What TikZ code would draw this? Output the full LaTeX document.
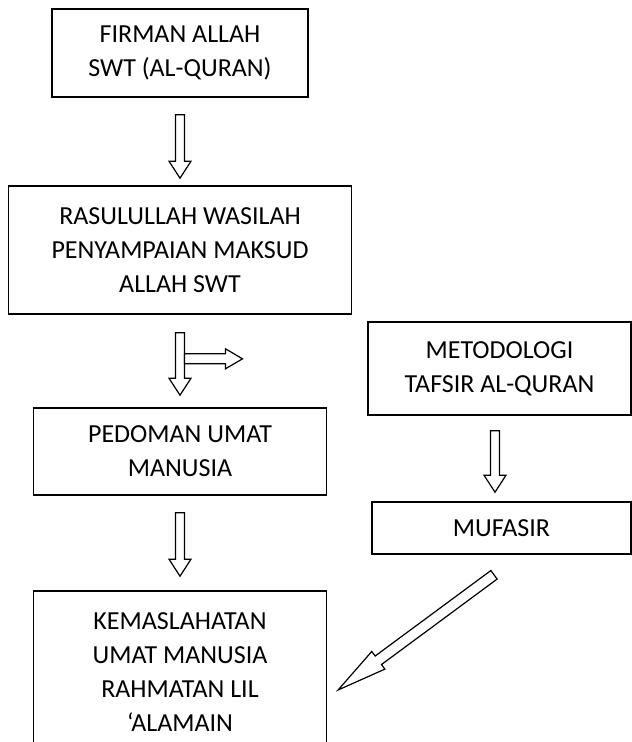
\documentclass[tikz,border=0pt]{standalone}
\usepackage{fontspec}
\setmainfont{Carlito}
\usetikzlibrary{calc}
\tikzset{flowbox/.style={draw, line width=1.6pt, align=center, inner sep=0pt, font=\fontsize{26}{34}\selectfont}}
\tikzset{flowarrow/.style args={#1/#2/#3}{draw, line width=1.2pt, fill=white, line join=miter, to path={
  let \p1=(\tikztostart), \p2=(\tikztotarget), \n1={veclen(\x2-\x1,\y2-\y1)-#3} in
  ($(\p1)!#1!90:(\p2)$) -- ($(\p1)!\n1!(\p2)!#1!90:(\p2)$) -- ($(\p1)!\n1!(\p2)!#2!90:(\p2)$) -- (\p2)
  -- ($(\p1)!\n1!(\p2)!#2!-90:(\p2)$) -- ($(\p1)!\n1!(\p2)!#1!-90:(\p2)$) -- ($(\p1)!#1!-90:(\p2)$) -- cycle}}}

\begin{document}
\begin{tikzpicture}[x=1pt, y=1pt]
\useasboundingbox (0,0) rectangle (632,-742);
\clip (0,0) rectangle (632,-742);

\node[flowbox, minimum width=256pt, minimum height=88pt] (firman) at (180,-53) {FIRMAN ALLAH\\SWT (AL-QURAN)};
\node[flowbox, minimum width=343pt, minimum height=128pt] (rasul) at (180,-250) {RASULULLAH WASILAH\\PENYAMPAIAN MAKSUD\\ALLAH SWT};
\node[flowbox, minimum width=293pt, minimum height=87pt] (pedoman) at (180,-451.5) {PEDOMAN UMAT\\MANUSIA};
\node[flowbox, minimum width=293pt, minimum height=162pt] (kemas) at (180,-672) {KEMASLAHATAN\\UMAT MANUSIA\\RAHMATAN LIL\\‘ALAMAIN};

\node[flowbox, minimum width=263pt, minimum height=93pt] (metod) at (499.5,-368.5) {METODOLOGI\\TAFSIR AL-QURAN};
\node[flowbox, minimum width=259pt, minimum height=52pt] (mufasir) at (501.5,-528) {MUFASIR};

\coordinate (fork) at ($(rasul.south)+(4.5,-44)$);
\coordinate (forktip) at ($(fork)+(58,0)$);

\draw[flowarrow=4.5pt/11pt/17pt] ($(firman.south)+(0,-17)$) to ($(rasul.north)+(0,7)$);
\draw[flowarrow=4.5pt/11pt/17pt] ($(rasul.south)+(0,-18)$) to ($(pedoman.north)+(0,12)$);
\draw[flowarrow=5pt/10pt/17pt] (fork) to (forktip);
\draw[flowarrow=4.5pt/11pt/17pt] ($(metod.south)+(-4.5,-15)$) to ($(mufasir.north)+(-6.5,9)$);
\draw[flowarrow=4.5pt/11pt/17pt] ($(pedoman.south)+(0,-17)$) to ($(kemas.north)+(0,14)$);
\draw[flowarrow=5.3pt/11pt/50pt] ($(mufasir.south)+(-7.5,-20)$) to ($(kemas.east)+(10.8,-18)$);

\end{tikzpicture}
\end{document}
